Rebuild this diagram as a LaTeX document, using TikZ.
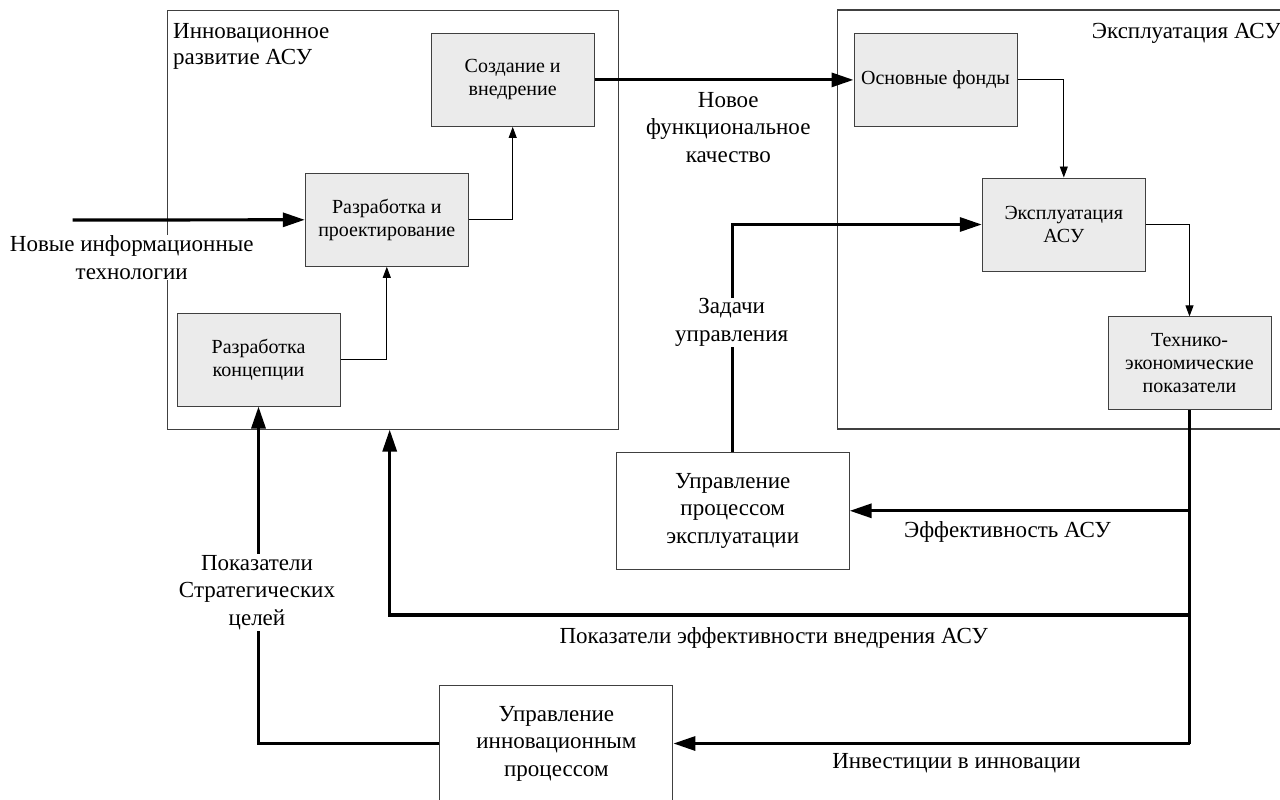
\documentclass[tikz,border=0pt]{standalone}
\usepackage{fontspec}
\setmainfont{Liberation Serif}
\newfontfamily\timesfont{Liberation Serif}
\usetikzlibrary{arrows.meta}
\tikzset{
  grayblock/.style={draw=black!75, fill=black!8, line width=1pt, minimum width=163pt, minimum height=93pt, inner sep=0pt, align=center, font=\timesfont\fontsize{20}{23}\selectfont},
  whiteblock/.style={draw=black!75, fill=white, line width=1pt, minimum width=233pt, minimum height=117pt, inner sep=0pt, align=center, font=\timesfont\fontsize{23}{27.5}\selectfont},
  areablock/.style={draw=black!75, line width=1.1pt, inner sep=0pt},
  flowlabel/.style={inner sep=1pt, align=center, font=\timesfont\fontsize{23}{27.5}\selectfont},
  heavy/.style={line width=3.2pt, -{Triangle[length=22pt,width=14pt]}},
  heavyline/.style={line width=3.2pt},
  thin/.style={line width=0.9pt, -{Triangle[length=11pt,width=8pt]}},
}
\begin{document}
\begin{tikzpicture}[x=1pt,y=1pt,yscale=-1,xscale=1]
        \useasboundingbox (0,0) rectangle (1280,800);

        %Shape: Rectangle [outer areas]
        \node [areablock, minimum width=451pt, minimum height=418.7pt] (innov) at (392.8,219.7) {};
        \node [areablock, minimum width=452.3pt, minimum height=419pt] (exploit) at (1063.9,219.5) {};

        % Text Node
        \draw (173,65) node [anchor=base west][inner sep=0pt, align=left, font=\timesfont\fontsize{23}{26}\selectfont] (innovtitle) {Инновационное\\развитие АСУ};
        \draw (1281,39) node [anchor=base east][inner sep=0pt, font=\timesfont\fontsize{23}{26}\selectfont] (exploittitle) {Эксплуатация АСУ};

        %Shape: Rectangle [blocks]
        \node [grayblock] (sozd) at (512.7,79.9) {Создание и\\внедрение};
        \node [grayblock] (razrab) at (386.8,219.8) {Разработка и\\проектирование};
        \node [grayblock] (konc) at (258.5,359.5) {Разработка\\концепции};
        \node [grayblock] (osn) at (935.5,79.9) {Основные фонды};
        \node [grayblock] (expl) at (1063.8,224.5) {Эксплуатация\\АСУ};
        \node [grayblock] (tech) at (1189.5,363.4) {Технико-\\экономические\\показатели};
        \node [whiteblock] (uprp) at (732.7,510.8) {Управление\\процессом\\эксплуатации};
        \node [whiteblock] (upri) at (556.4,743.5) {Управление\\инновационным\\процессом};

        %Straight Lines [inside blocks]
        \draw [thin] (konc.east) -| (razrab.south);
        \draw [thin] (razrab.east) -| (sozd.south);
        \draw [thin] (osn.east) -| (expl.north);
        \draw [thin] (expl.east) -| (tech.north);

        %Straight Lines [main flows]
        \coordinate (nitstart) at (72.7,220);
        \draw [heavy] (nitstart) -- (razrab.west);
        \draw [heavy] (sozd.east) -- (osn.west);
        \draw [heavy] (uprp.north) |- (expl.west);
        \draw [heavyline] (tech.south) -- (tech.south |- upri.east);
        \draw [heavy] (tech.south |- uprp.east) -- (uprp.east);
        \coordinate (effturn) at (389.7,615);
        \draw [heavy] (tech.south |- effturn) -- (effturn) -- (effturn |- innov.south);
        \draw [heavy] (tech.south |- upri.east) -- (upri.east);
        \draw [heavy] (upri.west) -| (konc.south);

        % Text Node
        \draw (131.7,257.5) node [flowlabel, fill=white] (nitlabel) {Новые информационные\\технологии};
        \draw (728.3,127.5) node [flowlabel] (kachlabel) {Новое\\функциональное\\качество};
        \draw (731.7,322.5) node [flowlabel, fill=white] (zadlabel) {Задачи\\управления};
        \draw (1007.6,531.7) node [flowlabel] (efflabel) {Эффективность АСУ};
        \draw (773.7,638) node [flowlabel] (vnedlabel) {Показатели эффективности внедрения АСУ};
        \draw (956.5,763.3) node [flowlabel] (invlabel) {Инвестиции в инновации};
        \draw (257,592.5) node [flowlabel, fill=white] (strlabel) {Показатели\\Стратегических\\целей};
\end{tikzpicture}
\end{document}
